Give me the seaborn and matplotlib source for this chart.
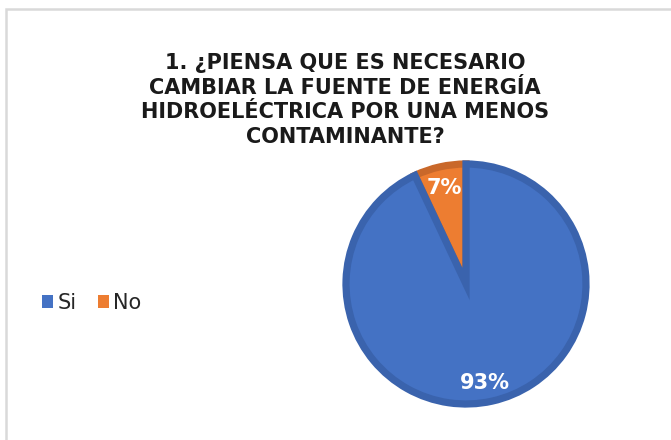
import matplotlib
matplotlib.use("Agg")
import matplotlib.pyplot as plt
from matplotlib.patches import Patch, Rectangle
import seaborn as sns

# Survey answers
categories = ["Si", "No"]
percentages = [93, 7]
title = "1. ¿PIENSA QUE ES NECESARIO\nCAMBIAR LA FUENTE DE ENERGÍA\nHIDROELÉCTRICA POR UNA MENOS\nCONTAMINANTE?"

sns.set_theme(style="white")
plt.rcParams["font.family"] = ["DejaVu Sans"]

face_colors = ["#4472C4", "#ED7D31"]
edge_colors = ["#3A63AD", "#C9682A"]

W, H = 671, 440
fig = plt.figure(figsize=(W / 100, H / 100), dpi=100)
fig.patch.set_facecolor("white")

# Light grey chart frame
fig.patches.append(Rectangle((6 / W, -0.05), 1.2, (H - 9) / H + 0.05,
                             transform=fig.transFigure, fill=False,
                             edgecolor="#D9D9D9", linewidth=1.8))

cx, cy, r = 466, 284, 120
ax = fig.add_axes([(cx - r) / W, (H - cy - r) / H, 2 * r / W, 2 * r / H])

wedges, _ = ax.pie(percentages, colors=face_colors, startangle=90,
                   counterclock=False, radius=1.0,
                   wedgeprops=dict(linewidth=5.2))
ax.set_xlim(-1, 1)
ax.set_ylim(-1, 1)
ax.set_aspect("auto")
ax.axis("off")
for w, ec in zip(wedges, edge_colors):
    w.set_edgecolor(ec)
    w.set_clip_on(False)
# draw the large slice on top so its border covers the seams
wedges[0].set_zorder(3)
wedges[1].set_zorder(2)

# Value labels
label_pos = {"Si": (485, 383), "No": (444, 188)}
for cat, val in zip(categories, percentages):
    px, py = label_pos[cat]
    fig.text(px / W, 1 - py / H, f"{val}%", ha="center", va="center",
             color="white", fontsize=15, fontweight="bold", zorder=10)

fig.text(345 / W, 1 - 100 / H, title, ha="center", va="center",
         fontsize=15, fontweight="bold", color="#1A1A1A", linespacing=1.3)

handles = [Patch(facecolor=c, edgecolor="none") for c in face_colors]
fig.legend(handles, categories, loc="center left",
           bbox_to_anchor=(42 / W, 1 - 303 / H), ncol=2, frameon=False,
           fontsize=15, handlelength=0.55, handleheight=0.55,
           handletextpad=0.2, columnspacing=1.0, borderpad=0,
           borderaxespad=0, labelcolor="#262626")

fig.savefig("out.png", dpi=100, facecolor="white")
